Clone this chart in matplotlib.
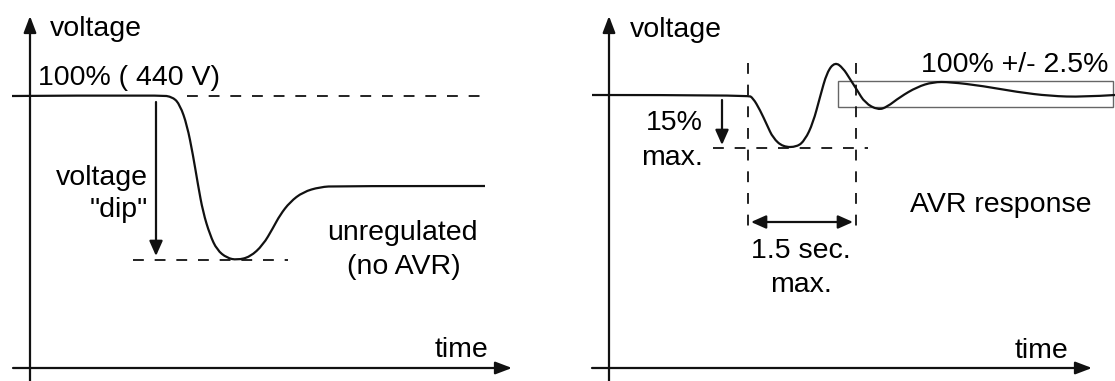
import matplotlib
matplotlib.use("Agg")
import matplotlib.pyplot as plt
from matplotlib.patches import Rectangle, PathPatch
from matplotlib.path import Path

plt.rcParams['font.family'] = ['Liberation Sans', 'DejaVu Sans']

# Left panel: unregulated voltage dip (pixel-space schematic)
left_x = [12, 160, 173, 180, 187, 193, 198, 203, 210, 217, 227, 237, 250, 263, 273,
          280, 290, 303, 320, 337, 485]
left_y = [96, 95, 97, 105, 125, 155, 185, 212, 235, 250, 258, 260, 257, 245, 228,
          215, 202, 192, 187, 186, 186]

# Right panel: AVR response
right_x = [592, 748, 753, 760, 767, 773, 783, 797, 805, 813, 820, 827, 835, 843, 850,
           857, 865, 878, 887, 900, 917, 933, 950, 983, 1017, 1050, 1083, 1115]
right_y = [95, 95, 98, 110, 125, 138, 147, 147, 140, 123, 97, 72, 62, 68, 79,
           90, 103, 110, 107, 97, 87, 82, 82, 86, 92, 96, 97, 95]

FS = 20.5
fig = plt.figure(figsize=(11.15, 3.81), dpi=100)
ax = fig.add_axes([0, 0, 1, 1])
ax.set_xlim(0, 1115)
ax.set_ylim(381, 0)
ax.axis('off')

K = '#111111'
lw = 1.6


def smooth_path(xs, ys):
    """Quadratic Bezier path using the read points as control points."""
    pts = list(zip(xs, ys))
    verts = [pts[0]]
    codes = [Path.MOVETO]
    for i in range(1, len(pts) - 1):
        mid = ((pts[i][0] + pts[i + 1][0]) / 2, (pts[i][1] + pts[i + 1][1]) / 2)
        if i == len(pts) - 2:
            mid = pts[-1]
        verts += [pts[i], mid]
        codes += [Path.CURVE3, Path.CURVE3]
    return Path(verts, codes)


axarr = dict(arrowstyle='-|>,head_width=0.38,head_length=1.0', color=K, lw=lw,
             shrinkA=0, shrinkB=0)
arr = dict(arrowstyle='-|>,head_width=0.4,head_length=0.9', color=K, lw=lw,
           shrinkA=0, shrinkB=0)
dash = (0, (6, 6))

# Axes with arrows
for x0, xend in [(13, 512), (592, 1092)]:
    ax.annotate('', xy=(xend, 368), xytext=(x0, 368), arrowprops=axarr)
for xa in [30, 609]:
    ax.annotate('', xy=(xa, 16), xytext=(xa, 381), arrowprops=axarr)

# Left panel
ax.add_patch(PathPatch(smooth_path(left_x, left_y), fill=False, ec=K, lw=lw))
ax.plot([187, 481], [96, 96], color=K, lw=1.3, ls=dash)
ax.plot([133, 288], [260, 260], color=K, lw=1.3, ls=dash)
ax.annotate('', xy=(156, 256), xytext=(156, 102), arrowprops=arr)
ax.text(50, 29, 'voltage', fontsize=FS, va='center', ha='left')
ax.text(38, 78, '100% ( 440 V)', fontsize=FS, va='center', ha='left')
ax.text(148, 178, 'voltage', fontsize=FS, va='center', ha='right')
ax.text(148, 210, '"dip"', fontsize=FS, va='center', ha='right')
ax.text(478, 233, 'unregulated', fontsize=FS, va='center', ha='right')
ax.text(404, 267, '(no AVR)', fontsize=FS, va='center', ha='center')
ax.text(488, 350, 'time', fontsize=FS, va='center', ha='right')

# Right panel
ax.add_patch(Rectangle((838, 81), 1113 - 838, 107 - 81, fill=False, ec='#666666', lw=1.0))
ax.add_patch(PathPatch(smooth_path(right_x, right_y), fill=False, ec=K, lw=lw))
ax.plot([748, 748], [63, 228], color=K, lw=1.3, ls=dash)
ax.plot([856, 856], [63, 228], color=K, lw=1.3, ls=dash)
ax.plot([713, 868], [148, 148], color=K, lw=1.3, ls=dash)
ax.annotate('', xy=(722, 145), xytext=(722, 100), arrowprops=arr)
dbl = dict(arrowstyle='<|-|>,head_width=0.4,head_length=0.9', color=K, lw=lw,
           shrinkA=0, shrinkB=0)
ax.annotate('', xy=(853, 222), xytext=(751, 222), arrowprops=dbl)
ax.text(630, 30, 'voltage', fontsize=FS, va='center', ha='left')
ax.text(1108, 65, '100% +/- 2.5%', fontsize=FS, va='center', ha='right')
ax.text(703, 123, '15%', fontsize=FS, va='center', ha='right')
ax.text(703, 158, 'max.', fontsize=FS, va='center', ha='right')
ax.text(801, 251, '1.5 sec.', fontsize=FS, va='center', ha='center')
ax.text(801, 285, 'max.', fontsize=FS, va='center', ha='center')
ax.text(1092, 205, 'AVR response', fontsize=FS, va='center', ha='right')
ax.text(1068, 351, 'time', fontsize=FS, va='center', ha='right')

fig.savefig('out.png', dpi=100)
